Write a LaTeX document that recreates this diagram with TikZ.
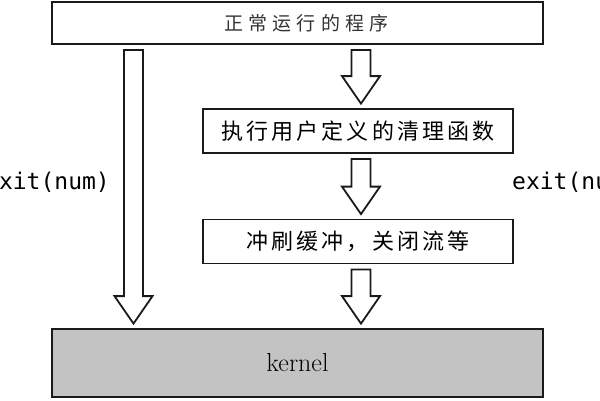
\documentclass[tikz,border=0pt]{standalone}
\usepackage{fontspec}
\usetikzlibrary{positioning,calc}
\newfontfamily\cjkfont{Noto Sans CJK SC}
\newfontfamily\codefont{DejaVu Sans Mono}
\definecolor{ink}{HTML}{1A1A1A}
\definecolor{softink}{HTML}{333333}
\definecolor{kernelgray}{HTML}{C3C3C3}
\tikzset{
  procbox/.style={
    draw=ink, fill=white, line width=1.8pt, inner sep=0pt,
    minimum width=310pt, minimum height=44pt,
    font=\cjkfont\fontsize{22}{24}\selectfont\addfontfeature{LetterSpace=14}
  },
  widebox/.style={
    procbox, minimum width=491pt, minimum height=42pt, text=softink,
    font=\cjkfont\fontsize{19}{21}\selectfont\addfontfeature{LetterSpace=28}
  },
  kernelbox/.style={
    draw=ink, fill=kernelgray, line width=1.8pt, inner sep=0pt,
    minimum width=491pt, minimum height=68pt,
    font=\fontsize{26}{28}\selectfont
  },
  arrowbody/.style={draw=ink, fill=white, line width=1.8pt, line join=miter},
  exitlabel/.style={font=\codefont\fontsize{23}{26}\selectfont, inner sep=0pt}
}
% hollow block arrow from #1 down to #2
\newcommand\blockarrow[2]{%
  \draw[arrowbody] let \p1=(#1), \p2=(#2) in
    (\x1-9.5pt,\y1-5pt) -- (\x1-9.5pt,\y2+32pt) -- (\x1-19pt,\y2+32pt)
    -- (\x1,\y2+4.5pt) -- (\x1+19pt,\y2+32pt) -- (\x1+9.5pt,\y2+32pt)
    -- (\x1+9.5pt,\y1-5pt) -- cycle;}

\begin{document}
\begin{tikzpicture}[x=1pt,y=-1pt]
  \clip (0,0) rectangle (600,400);

  % boxes
  \node[widebox]    (prog)   at (297.5,23)    {\hspace*{18pt}正常运行的程序};
  \node[procbox]    (clean)  at (358,131)     {执行用户定义的清理函数};
  \node[procbox]    (flush)  at (358,241.5)   {冲刷缓冲，关闭流等};
  \node[kernelbox]  (kernel) at (297.5,363)   {kernel};
  \coordinate (leftlane) at (133.5,0);
  \coordinate (midlane)  at (361,0);

  % arrows
  \blockarrow{prog.south -| leftlane}{kernel.north -| leftlane}
  \blockarrow{prog.south -| midlane}{clean.north -| midlane}
  \blockarrow{clean.south -| midlane}{flush.north -| midlane}
  \blockarrow{flush.south -| midlane}{kernel.north -| midlane}

  % labels
  \node[exitlabel, anchor=east] (exitl) at (110,182) {exit(num)};
  \node[exitlabel, anchor=west] (exitr) at (512,182) {exit(num)};
\end{tikzpicture}
\end{document}
